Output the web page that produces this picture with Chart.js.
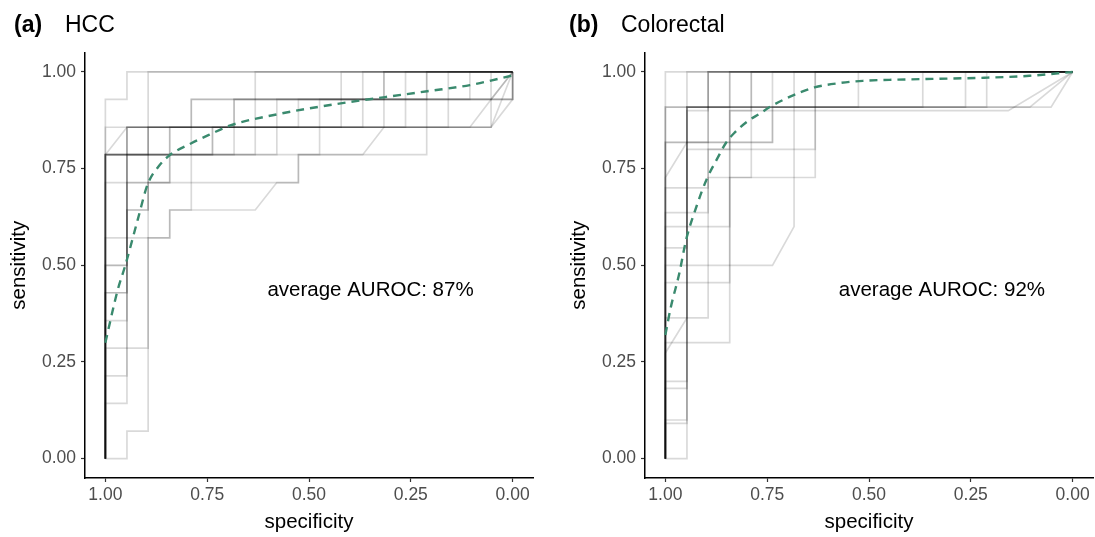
<!DOCTYPE html>
<html lang="en">
<head>
<meta charset="UTF-8">
<title>ROC curves - HCC and Colorectal</title>
<style>
  body { margin: 0; background: #fff; }
  #wrap { position: relative; width: 1095px; height: 537px; }
  .panel { position: absolute; top: 0; }
</style>
<script src="https://cdn.jsdelivr.net/npm/chart.js"></script>
</head>
<body>
<div id="wrap">
  <canvas id="hcc" class="panel" width="550" height="537" style="left:0"></canvas>
  <canvas id="crc" class="panel" width="545" height="537" style="left:550px"></canvas>
</div>
<script>
const FONT = "'Liberation Sans', Arial, Helvetica, sans-serif";

// tick positions shared by both panels
const xTicks = [0, 0.25, 0.5, 0.75, 1];
const yTicks = [0, 0.25, 0.5, 0.75, 1];

// HCC: one ROC curve per fold, [specificity, sensitivity] corners
const hccCurves = [
  [[1,0],[1,.786],[.842,.786],[.842,.857],[.368,.857],[.368,.929],[.158,.929],[.158,1],[0,1]],
  [[1,0],[1,.786],[.947,.786],[.947,.857],[.526,.857],[.526,.929],[.053,.929],[.053,1],[0,1]],
  [[1,0],[1,.786],[.789,.786],[.789,.929],[.632,.929],[.632,1],[0,1]],
  [[1,0],[1,.786],[.737,.786],[.737,.857],[.211,.857],[.211,1],[0,1]],
  [[1,0],[1,.786],[.632,.786],[.632,.857],[.316,.857],[.316,1],[0,1]],
  [[1,0],[1,.929],[.947,.929],[.947,1],[0,1]],
  [[1,0],[1,.857],[.895,.857],[.895,1],[0,1]],
  [[1,0],[1,.429],[.947,.429],[.947,.857],[.684,.857],[.684,.929],[0,.929],[0,1]],
  [[1,0],[1,.357],[.947,.357],[.947,.857],[.474,.857],[.474,.929],[.105,.929],[.105,1],[0,1]],
  [[1,0],[1,.286],[.947,.286],[.947,.786],[.895,.786],[.895,.857],[.158,.857],[.158,.929],[0,.929],[0,1]],
  [[1,0],[1,.214],[.947,.214],[.947,.643],[.895,.643],[.895,.714],[.842,.714],[.842,.786],[.474,.786],[.474,.857],[.053,.857],[.053,.929],[0,1]],
  [[1,0],[1,.429],[.947,.429],[.947,.714],[.895,.714],[.895,.786],[.737,.786],[.737,.857],[.263,.857],[.263,.929],[0,.929],[0,1]],
  [[1,0],[1,.5],[.947,.5],[.947,.643],[.895,.643],[.895,.714],[.789,.714],[.789,.786],[.684,.786],[.684,.929],[.368,.929],[.368,1],[0,1]],
  [[1,0],[1,.571],[.947,.571],[.947,.714],[.842,.714],[.842,.786],[.579,.786],[.579,.857],[.053,.857],[0,.929],[0,1]],
  [[1,0],[1,.143],[.947,.143],[.947,.286],[.895,.286],[.895,.571],[.842,.571],[.842,.643],[.789,.643],[.789,.714],[.526,.714],[.526,.786],[.211,.786],[.211,.857],[.053,.857],[0,1]],
  [[1,0],[.947,0],[.947,.071],[.895,.071],[.895,.571],[.842,.571],[.842,.643],[.632,.643],[.579,.714],[.526,.714],[.526,.786],[.368,.786],[.316,.857],[.105,.857],[.053,.929],[0,1]],
  [[1,0],[1,.5],[.947,.5],[.947,.571],[.895,.571],[.895,.857],[.789,.857],[.789,.929],[.421,.929],[.421,1],[0,1]],
  [[1,0],[1,.714],[.947,.714],[.947,.786],[.842,.786],[.842,.857],[.632,.857],[.632,.929],[.316,.929],[.316,1],[0,1]],
  [[1,0],[1,.786],[.895,.786],[.895,.857],[.421,.857],[.421,.929],[.211,.929],[.211,1],[0,1]],
  [[1,0],[1,.786],[.947,.857],[.579,.857],[.579,.929],[.263,.929],[.263,1],[0,1]]
];
const hccMeanSpec = [1, .97, .951, .92, .896, .87, .843, .79, .74, .695, .58, .433, .313, .21, .105, 0];
const hccMeanSens = [.30, .435, .50, .62, .71, .755, .784, .815, .84, .861, .89, .917, .935, .95, .966, .991];

// Colorectal
const crcCurves = [
  [[1,0],[1,.909],[.947,.909],[.947,1],[0,1]],
  [[1,0],[1,.818],[.947,.818],[.947,.909],[.526,.909],[.526,1],[0,1]],
  [[1,0],[1,.727],[.947,.818],[.737,.818],[.737,.909],[.211,.909],[.211,1],[0,1]],
  [[1,0],[1,.636],[.895,.636],[.895,.727],[.789,.727],[.789,.909],[.105,.909],[0,1]],
  [[1,0],[1,.545],[.947,.545],[.947,.909],[.842,.909],[.842,1],[0,1]],
  [[1,0],[1,.455],[.842,.455],[.842,.727],[.632,.727],[.632,1],[0,1]],
  [[1,0],[1,.364],[.895,.364],[.895,.818],[.737,.818],[.737,1],[0,1]],
  [[1,0],[1,.273],[.947,.364],[.947,.909],[.368,.909],[.368,1],[0,1]],
  [[1,0],[1,.182],[.947,.182],[.947,.909],[.263,.909],[.263,1],[0,1]],
  [[1,0],[1,.091],[.947,.091],[.947,.909],[.895,.909],[.895,1],[0,1]],
  [[1,0],[1,.7],[.895,.7],[.895,.8],[.632,.8],[.632,1],[0,1]],
  [[1,0],[1,.6],[.842,.6],[.842,.9],[.158,.9],[0,1]],
  [[1,0],[1,.5],[.737,.5],[.684,.6],[.684,1],[0,1]],
  [[1,0],[1,.3],[.842,.3],[.842,.9],[.789,.9],[.789,1],[0,1]],
  [[1,0],[1,.2],[.947,.2],[.947,.9],[.895,.9],[.895,1],[0,1]],
  [[1,0],[1,.1],[.947,.1],[.947,.8],[.842,.8],[.842,1],[0,1]],
  [[1,0],[.947,0],[.947,.818],[.895,.818],[.895,1],[0,1]],
  [[1,0],[1,.909],[.789,.909],[.789,1],[0,1]],
  [[1,0],[1,.818],[.895,.818],[.895,.909],[.053,.909],[0,1]],
  [[1,0],[1,1],[0,1]]
];
const crcMeanSpec = [1, .987, .966, .949, .923, .898, .872, .851, .83, .796, .77, .736, .685, .634, .574, .515, .43, .345, .217, .106, 0];
const crcMeanSens = [.32, .39, .478, .566, .654, .724, .777, .817, .843, .874, .891, .914, .94, .96, .971, .977, .98, .982, .985, .99, 1];

const headerText = {
  id: 'headerText',
  afterDraw(chart, args, o) {
    const { ctx, scales: { x, y } } = chart;
    ctx.save();
    ctx.fillStyle = '#000';
    ctx.textBaseline = 'alphabetic';
    ctx.textAlign = 'left';
    ctx.font = `bold 23px ${FONT}`;
    ctx.fillText(o.tag, o.tagX, 32);
    ctx.font = `23px ${FONT}`;
    ctx.fillText(o.title, o.titleX, 32);
    // annotation sits at a data position
    ctx.font = `20.5px ${FONT}`;
    ctx.textAlign = 'center';
    ctx.fillText(o.note, x.getPixelForValue(o.noteX), y.getPixelForValue(o.noteY));
    ctx.restore();
  }
};

function axisOpts(title, ticks, isX, titlePad) {
  return {
    type: 'linear',
    reverse: isX,
    min: -0.05,
    max: 1.05,
    afterBuildTicks: s => { s.ticks = ticks.map(v => ({ value: v })); },
    afterFit: s => { if (isX) s.height = 59; else s.width = 85; },
    ticks: {
      callback: v => Number(v).toFixed(2),
      color: '#4d4d4d',
      font: { family: FONT, size: 17.5 },
      padding: isX ? 3 : 5,
      autoSkip: false,
      maxRotation: 0
    },
    grid: { drawOnChartArea: false, drawTicks: true, tickLength: 4, tickColor: '#333', tickWidth: 1.2 },
    border: { display: true, color: '#000', width: 1.5 },
    title: { display: true, text: title, color: '#000', font: { family: FONT, size: 20.5 }, padding: titlePad }
  };
}

function makeRoc(id, curves, meanSpec, meanSens, text, padLeft, padRight) {
  const datasets = [{
    data: meanSpec.map((s, i) => [s, meanSens[i]]),
    showLine: true,
    borderColor: '#3a8a6e',
    borderWidth: 2.4,
    borderDash: [8, 6],
    pointRadius: 0,
    cubicInterpolationMode: 'monotone',
    order: 0
  }];
  curves.forEach(c => datasets.push({
    data: c,
    showLine: true,
    borderColor: 'rgba(0,0,0,0.15)',
    borderWidth: 1.7,
    pointRadius: 0,
    tension: 0,
    order: 1
  }));

  return new Chart(document.getElementById(id), {
    type: 'scatter',
    data: { datasets },
    options: {
      responsive: false,
      animation: false,
      layout: { padding: { left: padLeft, right: padRight, top: 52.6, bottom: 0 } },
      plugins: { legend: { display: false }, tooltip: { enabled: false }, headerText: text },
      scales: {
        x: axisOpts('specificity', xTicks, true, { bottom: 2 }),
        y: axisOpts('sensitivity', yTicks, false, { top: 7 })
      }
    },
    plugins: [headerText]
  });
}

makeRoc('hcc', hccCurves, hccMeanSpec, hccMeanSens,
  { tag: '(a)', tagX: 14, title: 'HCC', titleX: 65, note: 'average AUROC: 87%', noteX: 0.349, noteY: 0.42 }, 0, 17);
makeRoc('crc', crcCurves, crcMeanSpec, crcMeanSens,
  { tag: '(b)', tagX: 19, title: 'Colorectal', titleX: 71, note: 'average AUROC: 92%', noteX: 0.321, noteY: 0.42 }, 10, 2);
</script>
</body>
</html>
